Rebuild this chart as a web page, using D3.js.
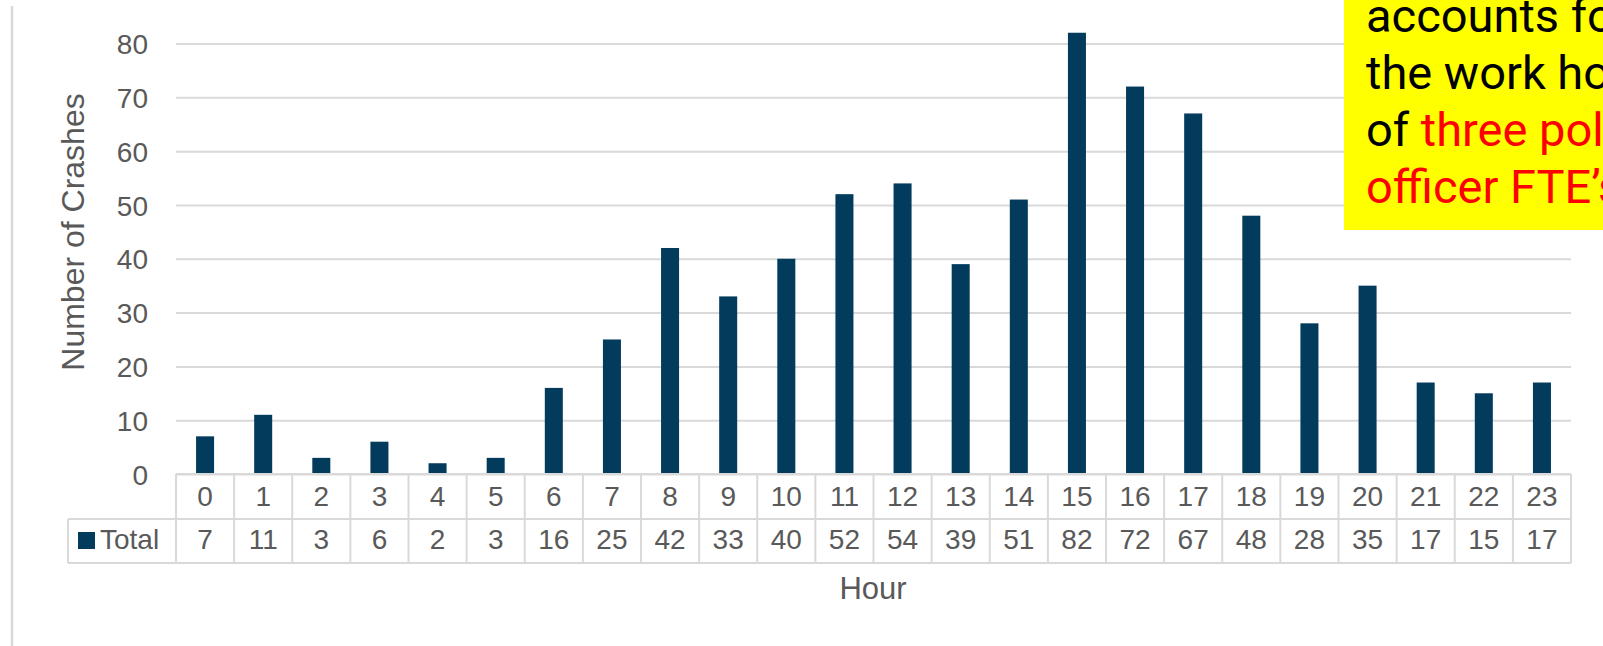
<!DOCTYPE html>
<html>
<head>
<meta charset="utf-8">
<script src="https://cdn.jsdelivr.net/npm/d3@7"></script>
<style>
  html, body { margin: 0; padding: 0; background: #fff; overflow: hidden; }
  svg { display: block; }
</style>
</head>
<body>
<svg id="chart" width="1603" height="646"></svg>
<script>
// Crashes by hour of day
const hours = ["0","1","2","3","4","5","6","7","8","9","10","11","12","13","14","15","16","17","18","19","20","21","22","23"];
const totals = [7, 11, 3, 6, 2, 3, 16, 25, 42, 33, 40, 52, 54, 39, 51, 82, 72, 67, 48, 28, 35, 17, 15, 17];
const yTicks = [0, 10, 20, 30, 40, 50, 60, 70, 80];
const seriesName = "Total";
const yTitle = "Number of Crashes";
const xTitle = "Hour";
const noteLines = [
  [{ t: "accounts for", red: false }],
  [{ t: "the work hours", red: false }],
  [{ t: "of ", red: false }, { t: "three police", red: true }],
  [{ t: "officer FTE’s", red: true }]
];

const svg = d3.select("#chart");
const textColor = "#595959";
const gridColor = "#d9d9d9";
const barColor = "#033b5c";
const font = "'Liberation Sans', Arial, sans-serif";

const left = 176, right = 1571, baseY = 474;
const x = d3.scaleBand().domain(hours).range([left, right]).paddingInner(0).paddingOuter(0);
const y = d3.scaleLinear().domain([0, 80]).range([baseY, 43.5]);

// outer frame edge on the left
svg.append("line")
  .attr("x1", 12).attr("x2", 12).attr("y1", 6).attr("y2", 646)
  .attr("stroke", gridColor).attr("stroke-width", 2.5);

// horizontal gridlines + y tick labels
const yAxis = d3.axisLeft(y).tickValues(yTicks).tickSize(-(right - left)).tickPadding(28);
const gy = svg.append("g").attr("transform", `translate(${left},0)`).call(yAxis);
gy.select(".domain").remove();
gy.selectAll(".tick line").attr("stroke", gridColor).attr("stroke-width", 2);
gy.selectAll(".tick text")
  .attr("fill", textColor).attr("font-family", font).attr("font-size", 28)
  .attr("dy", "0.36em");

// bars
const barW = x.bandwidth() * 0.31;
svg.append("g").selectAll("rect")
  .data(hours)
  .join("rect")
  .attr("x", (d) => x(d) + (x.bandwidth() - barW) / 2)
  .attr("width", barW)
  .attr("y", (d, i) => y(totals[i]))
  .attr("height", (d, i) => y(0) - y(totals[i]))
  .attr("fill", barColor);

// data table under the axis
const row1 = baseY, row2 = 519, row3 = 563, legendLeft = 68;
const table = svg.append("g").attr("stroke", gridColor).attr("stroke-width", 2).attr("fill", "none");
table.append("line").attr("x1", left).attr("x2", right).attr("y1", row1).attr("y2", row1);
table.append("line").attr("x1", legendLeft).attr("x2", right).attr("y1", row2).attr("y2", row2);
table.append("line").attr("x1", legendLeft).attr("x2", right).attr("y1", row3).attr("y2", row3);
table.append("line").attr("x1", legendLeft).attr("x2", legendLeft).attr("y1", row2).attr("y2", row3);
table.selectAll("line.col")
  .data(hours.concat(["end"]))
  .join("line")
  .attr("class", "col")
  .attr("x1", (d) => d === "end" ? right : x(d))
  .attr("x2", (d) => d === "end" ? right : x(d))
  .attr("y1", row1).attr("y2", row3);

const cellText = svg.append("g")
  .attr("fill", textColor).attr("font-family", font).attr("font-size", 28)
  .attr("text-anchor", "middle");
cellText.selectAll("text.hour")
  .data(hours)
  .join("text")
  .attr("class", "hour")
  .attr("x", (d) => x(d) + x.bandwidth() / 2)
  .attr("y", 506)
  .text((d) => d);
cellText.selectAll("text.val")
  .data(hours)
  .join("text")
  .attr("class", "val")
  .attr("x", (d) => x(d) + x.bandwidth() / 2)
  .attr("y", 549)
  .text((d, i) => totals[i]);

// legend key in the table
svg.append("rect").attr("x", 78).attr("y", 532).attr("width", 17).attr("height", 17).attr("fill", barColor);
svg.append("text")
  .attr("x", 100).attr("y", 549)
  .attr("fill", textColor).attr("font-family", font).attr("font-size", 28)
  .text(seriesName);

// axis titles
svg.append("text")
  .attr("transform", "translate(84,232) rotate(-90)")
  .attr("text-anchor", "middle")
  .attr("fill", textColor).attr("font-family", font).attr("font-size", 32)
  .text(yTitle);
svg.append("text")
  .attr("x", 873).attr("y", 599)
  .attr("text-anchor", "middle")
  .attr("fill", textColor).attr("font-family", font).attr("font-size", 31)
  .text(xTitle);

// highlighted note box (runs past the right edge of the page)
const note = svg.append("g");
note.append("rect").attr("x", 1344).attr("y", -2).attr("width", 300).attr("height", 232).attr("fill", "#ffff00");
const noteText = note.append("text")
  .attr("font-family", "Roboto, sans-serif").attr("font-size", 47);
noteLines.forEach((line, i) => {
  const t = noteText.append("tspan").attr("x", 1366).attr("y", 32 + i * 57);
  line.forEach((seg, j) => {
    (j === 0 ? t : noteText.append("tspan"))
      .attr("fill", seg.red ? "#ff0000" : "#000000")
      .text(seg.t);
  });
});
</script>
</body>
</html>
